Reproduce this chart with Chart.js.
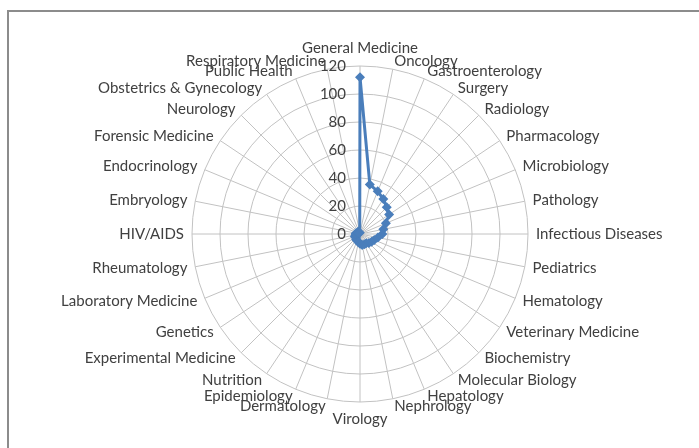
<!DOCTYPE html>
<html>
<head>
<meta charset="utf-8">
<script src="https://cdn.jsdelivr.net/npm/chart.js@4.4.1/dist/chart.umd.min.js"></script>
<style>
  html, body { margin: 0; padding: 0; background: #fff; }
  #wrap { position: relative; width: 699px; height: 448px; }
  #frame { position: absolute; left: 7px; top: 10px; right: -5px; bottom: -5px;
           border-left: 2px solid #8c8c8c; border-top: 2px solid #8c8c8c; }
  #chart { position: absolute; left: 0; top: 0; }
</style>
</head>
<body>
<div id="wrap">
  <div id="frame"></div>
  <canvas id="chart" width="699" height="448"></canvas>
</div>
<script>
const categories = [
  'General Medicine', 'Oncology', 'Gastroenterology', 'Surgery', 'Radiology',
  'Pharmacology', 'Microbiology', 'Pathology', 'Infectious Diseases', 'Pediatrics',
  'Hematology', 'Veterinary Medicine', 'Biochemistry', 'Molecular Biology', 'Hepatology',
  'Nephrology', 'Virology', 'Dermatology', 'Epidemiology', 'Nutrition',
  'Experimental Medicine', 'Genetics', 'Laboratory Medicine', 'Rheumatology', 'HIV/AIDS',
  'Embryology', 'Endocrinology', 'Forensic Medicine', 'Neurology', 'Obstetrics & Gynecology',
  'Public Health', 'Respiratory Medicine'
]
const counts = [
  112, 36, 33, 30, 27,
  25, 20, 17, 16, 13,
  11, 10, 9, 8, 8,
  8, 7, 6, 5, 5,
  4, 4, 4, 3, 3,
  3, 2, 2, 2, 2,
  1, 1
]
const tickValues = [0, 20, 40, 60, 80, 100, 120]

const labelFont = { family: 'Lato, "Open Sans", sans-serif', size: 15 }

// tick labels left of the vertical axis, category labels centred on their spoke (Excel style)
const axisText = {
  id: 'axisText',
  beforeDatasetsDraw(chart) {
    const scale = chart.scales.r
    const ctx = chart.ctx
    ctx.save()
    ctx.font = `${labelFont.size}px ${labelFont.family}`
    ctx.fillStyle = '#404040'
    ctx.textAlign = 'right'
    ctx.textBaseline = 'middle'
    tickValues.forEach(v => {
      const d = scale.getDistanceFromCenterForValue(v)
      ctx.fillText(String(v), scale.xCenter - 14, scale.yCenter - d)
    })
    const n = categories.length
    categories.forEach((name, i) => {
      let p
      if (i === 0) {
        p = scale.getPointPosition(i, scale.drawingArea + 10)
        ctx.textAlign = 'center'
        ctx.textBaseline = 'bottom'
      } else if (i === n / 2) {
        p = scale.getPointPosition(i, scale.drawingArea + 10)
        ctx.textAlign = 'center'
        ctx.textBaseline = 'top'
      } else {
        p = scale.getPointPosition(i, scale.drawingArea + 8)
        ctx.textAlign = i < n / 2 ? 'left' : 'right'
        ctx.textBaseline = 'middle'
      }
      ctx.fillText(name, p.x, p.y)
    })
    ctx.restore()
  }
}

const ctx = document.getElementById('chart').getContext('2d')
const myChart = new Chart(ctx, {
  type: 'radar',
  data: {
    labels: categories,
    datasets: [{
      label: 'Articles',
      data: counts,
      borderColor: '#4a7ebb',
      backgroundColor: '#4a7ebb',
      borderWidth: 3,
      fill: false,
      pointStyle: 'rectRot',
      pointRadius: 5,
      pointHoverRadius: 5,
      pointBackgroundColor: '#4a7ebb',
      pointBorderColor: '#4a7ebb',
      pointBorderWidth: 0,
      tension: 0
    }]
  },
  options: {
    responsive: false,
    animation: false,
    layout: { padding: { left: 21, right: 0, top: 66, bottom: 46 } },
    plugins: { legend: { display: false }, tooltip: { enabled: false } },
    scales: {
      r: {
        min: 0,
        max: 120,
        ticks: { stepSize: 20, display: false },
        grid: { color: '#c2c2c2', circular: true, lineWidth: 1 },
        angleLines: { color: '#c2c2c2', lineWidth: 1 },
        pointLabels: { display: false }
      }
    }
  },
  plugins: [axisText]
})
</script>
</body>
</html>
